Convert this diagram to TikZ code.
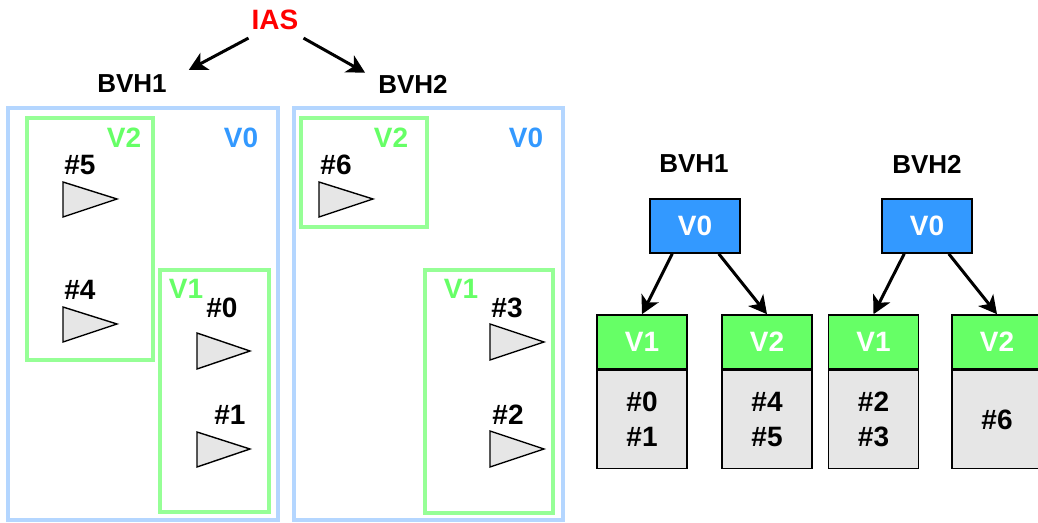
\documentclass[tikz,border=0pt]{standalone}
\usepackage{fontspec}
\setmainfont{Liberation Sans}
\usetikzlibrary{arrows.meta}
\definecolor{outerblue}{RGB}{180,214,255}
\definecolor{boxgreen}{RGB}{150,255,150}
\definecolor{lblgreen}{RGB}{102,255,102}
\definecolor{lblblue}{RGB}{51,153,255}
\definecolor{trigray}{RGB}{230,230,230}
\definecolor{hdrgreen}{RGB}{102,255,102}
\definecolor{nodeblue}{RGB}{51,153,255}
\definecolor{iasred}{RGB}{255,0,0}
\begin{document}
\begin{tikzpicture}[x=1pt,y=-1pt,
  txt/.style={inner sep=0pt,font=\fontsize{28}{33}\selectfont\bfseries},
  ttl/.style={inner sep=0pt,font=\fontsize{26}{31}\selectfont\bfseries},
  outerbox/.style={draw=outerblue,line width=3.5pt},
  greenbox/.style={draw=boxgreen,line width=3.5pt},
  tri/.style={draw=black,fill=trigray,line width=1.4pt,line join=miter},
  arr/.style={line width=3pt,-{Stealth[length=18pt,width=19pt,inset=5pt]}},
  hdr/.style={draw=black,line width=1.6pt,fill=hdrgreen,minimum width=90pt,minimum height=54pt,inner sep=0pt,text=white,font=\fontsize{28}{33}\selectfont\bfseries},
  body/.style={draw=black,line width=1.6pt,fill=trigray,minimum width=90pt,minimum height=98pt,inner sep=0pt,align=center,font=\fontsize{28}{35}\selectfont\bfseries},
  rootbox/.style={draw=black,line width=1.6pt,fill=nodeblue,minimum width=90pt,minimum height=54pt,inner sep=0pt,text=white,font=\fontsize{28}{33}\selectfont\bfseries}]
\useasboundingbox (0,0) rectangle (1038,522);

% ---- top labels ----
\node[ttl,text=iasred,font=\fontsize{28}{33}\selectfont\bfseries] (ias) at (275,20) {IAS};
\node[ttl] (bvh1) at (132,84) {BVH1};
\node[ttl] (bvh2) at (413,84) {BVH2};
\draw[arr] ([shift={(-3,8)}]ias.south west) -- ([shift={(22,-5)}]bvh1.north east);
\draw[arr] ([shift={(5,8)}]ias.south east) -- ([shift={(-13,-2)}]bvh2.north west);

% ---- BVH1 spatial ----
\draw[outerbox] (8,108) rectangle (278,520);
\draw[greenbox] (27,118) rectangle (153,360);
\draw[greenbox] (160,270) rectangle (269,512);
\node[txt,text=lblgreen] (l1v2) at (124,138) {V2};
\node[txt,text=lblblue] (l1v0) at (241,138) {V0};
\node[txt,text=lblgreen] (l1v1) at (186,289) {V1};
\node[txt] (p5) at (80,165) {\#5};
\draw[tri] (63,182) -- (63,217) -- (117,199) -- cycle;
\node[txt] (p4) at (80,290) {\#4};
\draw[tri] (63,307) -- (63,342) -- (117,324) -- cycle;
\node[txt] (p0) at (222,308) {\#0};
\draw[tri] (197,333) -- (197,369) -- (250,351) -- cycle;
\node[txt] (p1) at (230,415) {\#1};
\draw[tri] (197,432) -- (197,467) -- (250,449) -- cycle;

% ---- BVH2 spatial ----
\draw[outerbox] (294,108) rectangle (563,520);
\draw[greenbox] (301,118) rectangle (427,227);
\draw[greenbox] (425,270) rectangle (553,513);
\node[txt,text=lblgreen] (l2v2) at (391,138) {V2};
\node[txt,text=lblblue] (l2v0) at (526,138) {V0};
\node[txt,text=lblgreen] (l2v1) at (461,289) {V1};
\node[txt] (p6) at (336,165) {\#6};
\draw[tri] (319,182) -- (319,217) -- (373,199) -- cycle;
\node[txt] (p3) at (507,308) {\#3};
\draw[tri] (490,324) -- (490,360) -- (544,342) -- cycle;
\node[txt] (p2) at (508,415) {\#2};
\draw[tri] (490,431) -- (490,467) -- (544,449) -- cycle;

% ---- trees ----
\node[ttl] (t1) at (694,164) {BVH1};
\node[ttl] (t2) at (927,164) {BVH2};
\node[rootbox] (r1) at (695,226) {V0};
\node[rootbox] (r2) at (927,226) {V0};

\node[hdr] (a1) at (642,342) {V1};
\node[body,anchor=north] (b1) at (a1.south) {\#0\\\#1};
\node[hdr] (a2) at (767,342) {V2};
\node[body,anchor=north] (b2) at (a2.south) {\#4\\\#5};
\node[hdr] (a3) at (873.5,342) {V1};
\node[body,anchor=north] (b3) at (a3.south) {\#2\\\#3};
\node[hdr] (a4) at (997,342) {V2};
\node[body,anchor=north] (b4) at (a4.south) {\#6};

\draw[arr] ([xshift=23pt]r1.south west) -- (a1.north);
\draw[arr] ([xshift=-22pt]r1.south east) -- (a2.north);
\draw[arr] ([xshift=23pt]r2.south west) -- (a3.north);
\draw[arr] ([xshift=-24pt]r2.south east) -- (a4.north);
\end{tikzpicture}
\end{document}
